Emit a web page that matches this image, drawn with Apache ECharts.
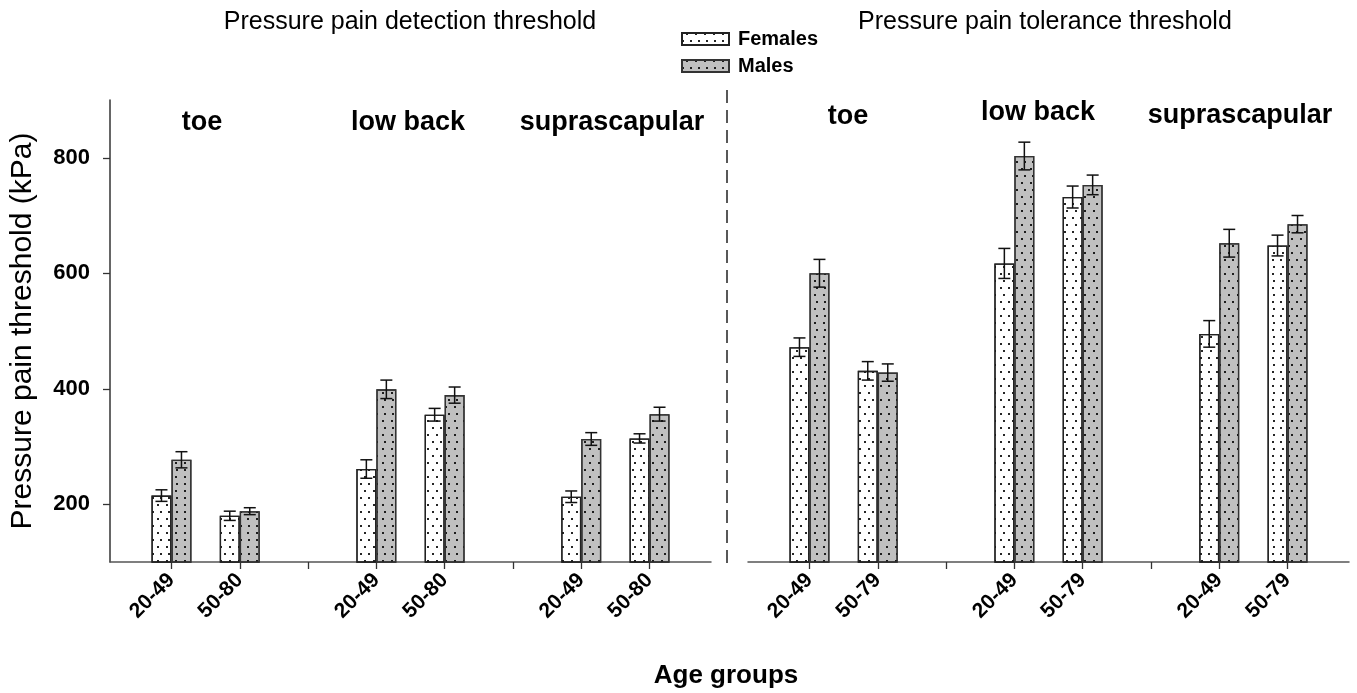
<!DOCTYPE html>
<html lang="en">
<head>
<meta charset="UTF-8">
<title>Pressure pain thresholds</title>
<script src="https://cdn.jsdelivr.net/npm/echarts@6/dist/echarts.min.js"></script>
<style>
  html, body, #main { margin: 0; padding: 0; width: 1357px; height: 693px; background: #fff; }
</style>
</head>
<body>
<div id="main"></div>
<script>
// age groups per slot (empty slots separate the body sites)
const detectAges = ['20-49', '50-80', '', '20-49', '50-80', '', '20-49', '50-80'];
const toleranceAges = ['20-49', '50-79', '', '20-49', '50-79', '', '20-49', '50-79'];
const sites = ['toe', 'low back', 'suprascapular'];

// detection threshold (kPa), mean and SE
const detectFemales = [215, 180, null, 261, 355, null, 213, 314];
const detectFemalesErr = [10, 8, null, 16, 11, null, 10, 8];
const detectMales = [277, 188, null, 399, 389, null, 313, 356];
const detectMalesErr = [14, 6, null, 16, 14, null, 11, 12];

// tolerance threshold (kPa), mean and SE
const tolFemales = [472, 431, null, 617, 732, null, 495, 648];
const tolFemalesErr = [16, 16, null, 26, 19, null, 23, 18];
const tolMales = [600, 428, null, 803, 753, null, 652, 685];
const tolMalesErr = [24, 15, null, 24, 17, null, 24, 15];

const yTicks = [200, 400, 600, 800];

const FONT = "'Liberation Sans', Arial, sans-serif";
const dots = {
  symbol: 'rect',
  symbolSize: 1,
  color: 'rgba(0,0,0,0.85)',
  dashArrayX: [[1.4, 5.6], [0, 3.5, 1.4, 2.1]],
  dashArrayY: [1.4, 5]
};

function pairs(vals) {
  const out = [];
  vals.forEach((v, i) => { if (v != null) out.push([i, v]); });
  return out;
}
function errPairs(vals, errs) {
  const out = [];
  vals.forEach((v, i) => { if (v != null) out.push([i, v - errs[i], v + errs[i]]); });
  return out;
}
function barSeries(name, idx, vals, fill, border) {
  return {
    name: name, type: 'bar', xAxisIndex: idx, yAxisIndex: idx,
    barWidth: 20, barGap: '0%',
    itemStyle: { color: fill, borderColor: border, borderWidth: 1.3, decal: dots },
    emphasis: { disabled: true },
    data: pairs(vals)
  };
}
function errSeries(idx, vals, errs, shift) {
  return {
    type: 'custom', name: 'err', xAxisIndex: idx, yAxisIndex: idx, z: 5,
    encode: { x: 0, y: [1, 2] },
    renderItem: function (params, api) {
      const lo = api.coord([api.value(0), api.value(1)]);
      const hi = api.coord([api.value(0), api.value(2)]);
      const x = lo[0] + shift, c = 6;
      const st = { stroke: '#111', lineWidth: 1.5 };
      return {
        type: 'group',
        children: [
          { type: 'line', shape: { x1: x, y1: hi[1], x2: x, y2: lo[1] }, style: st },
          { type: 'line', shape: { x1: x - c, y1: hi[1], x2: x + c, y2: hi[1] }, style: st },
          { type: 'line', shape: { x1: x - c, y1: lo[1], x2: x + c, y2: lo[1] }, style: st }
        ]
      };
    },
    data: errPairs(vals, errs)
  };
}
function xAxis(idx, ages) {
  return {
    type: 'value', gridIndex: idx, min: -0.9, max: 7.9,
    axisLine: { show: true, onZero: false, lineStyle: { color: '#555', width: 1.5 } },
    axisTick: { show: true, length: 7, customValues: [0, 1, 2, 3, 4, 5, 6, 7], lineStyle: { color: '#333', width: 1.3 } },
    axisLabel: {
      customValues: [0, 1, 3, 4, 6, 7], rotate: 45, margin: 15,
      fontFamily: FONT, fontSize: 21, fontWeight: 'bold', color: '#000',
      formatter: v => ages[Math.round(v)]
    },
    splitLine: { show: false }
  };
}

const chart = echarts.init(document.getElementById('main'));
const option = {
  backgroundColor: '#fff',
  animation: false,
  grid: [
    { left: 110, top: 100, width: 601, height: 462 },
    { left: 748, top: 100, width: 601, height: 462 }
  ],
  legend: {
    data: ['Females', 'Males'],
    orient: 'vertical', left: 676, top: 24,
    icon: 'rect',
    itemWidth: 47, itemHeight: 12, itemGap: 7,
    textStyle: { fontFamily: FONT, fontSize: 20, fontWeight: 'bold', color: '#000', padding: [0, 0, 0, 4] }
  },
  xAxis: [xAxis(0, detectAges), xAxis(1, toleranceAges)],
  yAxis: [
    {
      type: 'value', gridIndex: 0, min: 100, max: 900,
      name: 'Pressure pain threshold (kPa)', nameLocation: 'middle', nameGap: 72,
      nameTextStyle: { fontFamily: FONT, fontSize: 30, color: '#000' },
      axisLine: { show: true, onZero: false, lineStyle: { color: '#333', width: 1.5 } },
      axisTick: { show: true, length: 7, customValues: yTicks, lineStyle: { color: '#333', width: 1.3 } },
      axisLabel: { customValues: yTicks, margin: 20, fontFamily: FONT, fontSize: 22, fontWeight: 'bold', color: '#000' },
      splitLine: { show: false }
    },
    { type: 'value', gridIndex: 1, min: 100, max: 900, show: false, splitLine: { show: false } }
  ],
  graphic: [
    { type: 'line', shape: { x1: 727, y1: 90, x2: 727, y2: 566 }, style: { stroke: '#222', lineWidth: 1.5, lineDash: [13, 7] } },
    { type: 'text', x: 410, y: 22, style: { text: 'Pressure pain detection threshold', font: '25px ' + FONT, fill: '#000', align: 'center', verticalAlign: 'middle' } },
    { type: 'text', x: 858, y: 22, style: { text: 'Pressure pain tolerance threshold', font: '25px ' + FONT, fill: '#000', align: 'left', verticalAlign: 'middle' } },
    { type: 'text', x: 202, y: 123, style: { text: sites[0], font: 'bold 27px ' + FONT, fill: '#000', align: 'center', verticalAlign: 'middle' } },
    { type: 'text', x: 408, y: 123, style: { text: sites[1], font: 'bold 27px ' + FONT, fill: '#000', align: 'center', verticalAlign: 'middle' } },
    { type: 'text', x: 612, y: 123, style: { text: sites[2], font: 'bold 27px ' + FONT, fill: '#000', align: 'center', verticalAlign: 'middle' } },
    { type: 'text', x: 848, y: 117, style: { text: sites[0], font: 'bold 27px ' + FONT, fill: '#000', align: 'center', verticalAlign: 'middle' } },
    { type: 'text', x: 1038, y: 113, style: { text: sites[1], font: 'bold 27px ' + FONT, fill: '#000', align: 'center', verticalAlign: 'middle' } },
    { type: 'text', x: 1240, y: 116, style: { text: sites[2], font: 'bold 27px ' + FONT, fill: '#000', align: 'center', verticalAlign: 'middle' } },
    { type: 'text', x: 726, y: 676, style: { text: 'Age groups', font: 'bold 26px ' + FONT, fill: '#000', align: 'center', verticalAlign: 'middle' } }
  ],
  series: [
    barSeries('Females', 0, detectFemales, '#ffffff', '#222'),
    barSeries('Males', 0, detectMales, '#c0c0c0', '#333'),
    barSeries('Females', 1, tolFemales, '#ffffff', '#222'),
    barSeries('Males', 1, tolMales, '#c0c0c0', '#333'),
    errSeries(0, detectFemales, detectFemalesErr, -10),
    errSeries(0, detectMales, detectMalesErr, 10),
    errSeries(1, tolFemales, tolFemalesErr, -10),
    errSeries(1, tolMales, tolMalesErr, 10)
  ]
};
chart.setOption(option);
</script>
</body>
</html>
